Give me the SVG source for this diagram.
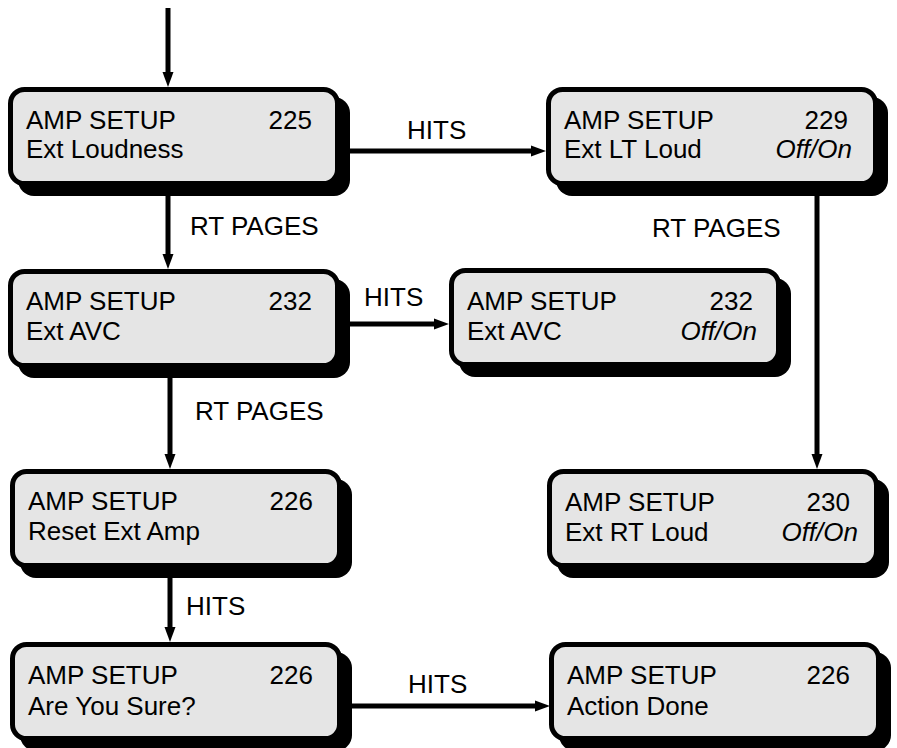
<svg xmlns="http://www.w3.org/2000/svg" width="897" height="748" viewBox="0 0 897 748">
<style>
.shadow{fill:#000;}
.box{fill:#e5e5e5;stroke:#000;stroke-width:5;}
.t{font-family:"Liberation Sans",Arial,sans-serif;font-size:26px;fill:#000;}
.r{text-anchor:end;}
.i{font-style:italic;}
.c{stroke:#000;stroke-width:5;fill:none;marker-end:url(#ah);}
</style>
<defs>
<marker id="ah" markerUnits="userSpaceOnUse" markerWidth="16" markerHeight="12" refX="5" refY="6" orient="auto">
<path d="M0,0.5 L15,6 L0,11.5 z" fill="#000"/>
</marker>
</defs>
<rect width="897" height="748" fill="#fff"/>
<g id="connectors">
<line class="c" x1="168" y1="8" x2="168" y2="77"/>
<line class="c" x1="168" y1="186" x2="168" y2="259"/>
<line class="c" x1="341" y1="151" x2="536" y2="151"/>
<line class="c" x1="817" y1="186" x2="817" y2="459"/>
<line class="c" x1="340" y1="324" x2="439" y2="324"/>
<line class="c" x1="170" y1="368" x2="170" y2="459"/>
<line class="c" x1="170" y1="569" x2="170" y2="632"/>
<line class="c" x1="342" y1="706" x2="540" y2="706"/>
<text class="t" x="407" y="139">HITS</text>
<text class="t" x="190" y="235">RT PAGES</text>
<text class="t" x="652" y="237">RT PAGES</text>
<text class="t" x="364" y="306">HITS</text>
<text class="t" x="195" y="420">RT PAGES</text>
<text class="t" x="186" y="615">HITS</text>
<text class="t" x="408" y="693">HITS</text>
</g>
<g id="n225" transform="translate(8,87)">
<rect class="shadow" x="10" y="10" width="332" height="99" rx="16"/>
<rect class="box" x="2.5" y="2.5" width="327" height="94" rx="14"/>
<text class="t" x="18" y="42">AMP SETUP</text>
<text class="t r" x="304" y="42">225</text>
<text class="t" x="18" y="71">Ext Loudness</text>
</g>
<g id="n229" transform="translate(546,87)">
<rect class="shadow" x="10" y="10" width="332" height="99" rx="16"/>
<rect class="box" x="2.5" y="2.5" width="327" height="94" rx="14"/>
<text class="t" x="18" y="42">AMP SETUP</text>
<text class="t r" x="302" y="42">229</text>
<text class="t" x="18" y="71">Ext LT Loud</text>
<text class="t r i" x="306" y="71">Off/On</text>
</g>
<g id="n232a" transform="translate(8,269)">
<rect class="shadow" x="10" y="10" width="332" height="99" rx="16"/>
<rect class="box" x="2.5" y="2.5" width="327" height="94" rx="14"/>
<text class="t" x="18" y="41">AMP SETUP</text>
<text class="t r" x="304" y="41">232</text>
<text class="t" x="18" y="71">Ext AVC</text>
</g>
<g id="n232b" transform="translate(449,268)">
<rect class="shadow" x="10" y="10" width="332" height="99" rx="16"/>
<rect class="box" x="2.5" y="2.5" width="327" height="94" rx="14"/>
<text class="t" x="18" y="42">AMP SETUP</text>
<text class="t r" x="304" y="42">232</text>
<text class="t" x="18" y="72">Ext AVC</text>
<text class="t r i" x="308" y="72">Off/On</text>
</g>
<g id="n226reset" transform="translate(10,469)">
<rect class="shadow" x="10" y="10" width="332" height="99" rx="16"/>
<rect class="box" x="2.5" y="2.5" width="327" height="94" rx="14"/>
<text class="t" x="18" y="41">AMP SETUP</text>
<text class="t r" x="303" y="41">226</text>
<text class="t" x="18" y="71">Reset Ext Amp</text>
</g>
<g id="n230" transform="translate(547,469)">
<rect class="shadow" x="10" y="10" width="332" height="99" rx="16"/>
<rect class="box" x="2.5" y="2.5" width="327" height="94" rx="14"/>
<text class="t" x="18" y="42">AMP SETUP</text>
<text class="t r" x="303" y="42">230</text>
<text class="t" x="18" y="72">Ext RT Loud</text>
<text class="t r i" x="311" y="72">Off/On</text>
</g>
<g id="n226sure" transform="translate(10,642)">
<rect class="shadow" x="10" y="10" width="332" height="99" rx="16"/>
<rect class="box" x="2.5" y="2.5" width="327" height="94" rx="14"/>
<text class="t" x="18" y="42">AMP SETUP</text>
<text class="t r" x="303" y="42">226</text>
<text class="t" x="18" y="73">Are You Sure?</text>
</g>
<g id="n226done" transform="translate(549,642)">
<rect class="shadow" x="10" y="10" width="332" height="99" rx="16"/>
<rect class="box" x="2.5" y="2.5" width="327" height="94" rx="14"/>
<text class="t" x="18" y="42">AMP SETUP</text>
<text class="t r" x="301" y="42">226</text>
<text class="t" x="18" y="73">Action Done</text>
</g>
</svg>
